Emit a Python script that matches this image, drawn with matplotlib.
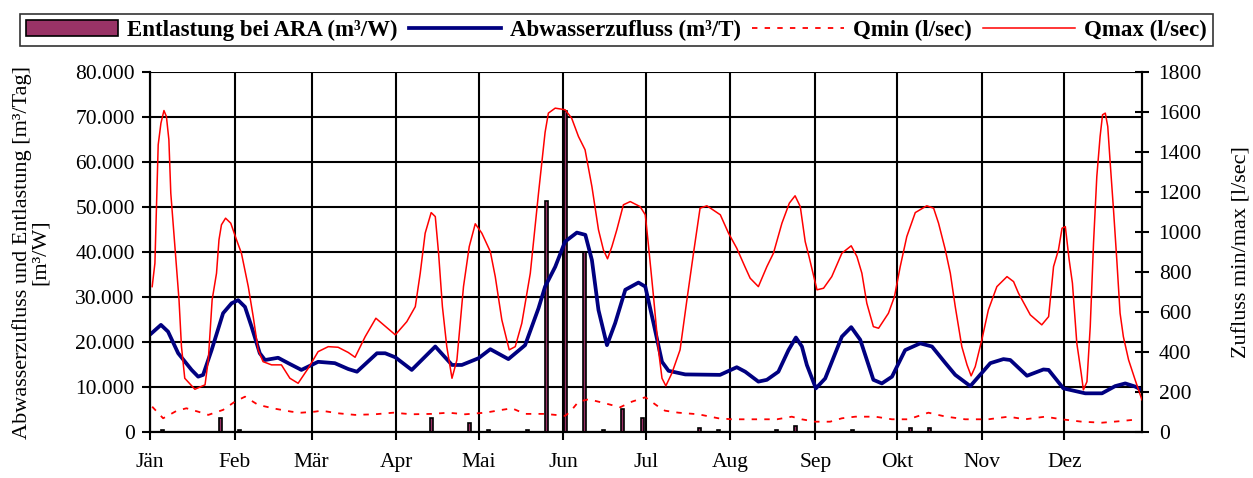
"""ARA Zufluss / Entlastung ueber das Jahr: Tageszufluss, Qmin/Qmax und woechentliche Entlastung."""
import numpy as np
import matplotlib
matplotlib.use("Agg")
import matplotlib.pyplot as plt
from matplotlib.ticker import FuncFormatter, MultipleLocator

plt.rcParams["font.family"] = ["Liberation Serif", "DejaVu Serif"]

MONATE = ["Jän", "Feb", "Mär", "Apr", "Mai", "Jun", "Jul", "Aug", "Sep", "Okt", "Nov", "Dez"]
MONATS_START = [0, 31, 59, 90, 120, 151, 181, 212, 243, 273, 304, 334]

# Entlastung bei ARA, je Woche (m³/W), 52 Wochen
entlastung_woche = [
    500, 0, 0, 3300, 500, 0, 0, 0, 0, 0,
    0, 0, 0, 0, 3300, 0, 2000, 500, 0, 500,
    51500, 71500, 40000, 500, 5200, 3300, 0, 0, 900, 500,
    0, 0, 500, 1400, 0, 0, 500, 0, 0, 1000,
    900, 0, 0, 0, 0, 0, 0, 0, 0, 0,
    0, 0,
]

# Abwasserzufluss (m³/T)
zufluss_tag = [0.5, 4, 6.6, 10.3, 15.2, 17.6, 19.4, 22.5, 26.7, 29.8, 32.2, 34.7, 37.1, 40.1,
               42, 46.8, 50.5, 55.3, 61.4, 67.5, 72.4, 75.6, 82.9, 85.9, 89.6, 95.6, 104.2,
               110.3, 113.9, 120, 124.3, 130.9, 137, 141.9, 144.3, 148, 151.6, 155.9, 159,
               161.4, 163.8, 166.9, 169.9, 173.6, 178.4, 180.9, 183.9, 187, 189.4, 195.5,
               208.2, 214.3, 217.4, 222.2, 225.3, 229.5, 233.2, 235.9, 238.1, 239.9, 243.2,
               246.6, 252.7, 256.1, 259.4, 264.2, 267.3, 271, 275.8, 281.3, 285.6, 290.4,
               294.1, 299.6, 302.6, 306.9, 311.7, 314.2, 320.3, 326.3, 328.2, 333.6, 341.6,
               347.7, 352.5, 356.2, 359.8, 362.3]
zufluss_wert = [22000, 23900, 22400, 17600, 13900, 12400, 12800, 18300, 26500, 28700, 29400,
                27900, 23500, 17600, 16100, 16600, 15400, 13900, 15700, 15400, 14100, 13500,
                17600, 17600, 16700, 13900, 19100, 15000, 15000, 16500, 18500, 16300, 19400,
                27600, 32400, 36800, 42400, 44400, 43900, 38300, 27200, 19400, 24300, 31700,
                33300, 32400, 24300, 15700, 13700, 12900, 12800, 14500, 13500, 11300, 11700,
                13500, 18300, 21100, 19100, 15000, 9800, 12000, 21300, 23400, 20600, 11700,
                10900, 12400, 18300, 19800, 19100, 15500, 12800, 10300, 12400, 15400, 16300,
                16100, 12600, 14000, 13900, 9800, 8700, 8700, 10300, 10900, 10200, 9400]

# Qmax (l/sec)
qmax_tag = [0.8, 1.8, 3, 4, 5.1, 6, 6.9, 7.6, 9.1, 10.6, 11.5, 12.7, 16.4, 20.1, 21.3, 22.7,
            24.3, 25.2, 26.1, 27.6, 29.5, 31.6, 33.4, 35.9, 37.7, 39.5, 41.3, 44.4, 48, 51.1,
            54.1, 57.8, 61.4, 65.1, 68.7, 72.4, 74.9, 78.6, 82.5, 89.6, 93.8, 96.9, 98.7,
            100.5, 102.7, 104.2, 105.4, 106.8, 108.4, 110.3, 112.1, 114.5, 116.6, 118.8,
            121.2, 124.3, 126.1, 128.5, 131.2, 133.4, 135.8, 138.9, 141.9, 144.3, 145.5, 148,
            151.6, 154, 156.5, 158.9, 161.4, 163.8, 165.6, 167.1, 168.7, 170.5, 172.9, 175.4,
            179, 180.9, 182.1, 183.9, 185.7, 187, 188.4, 190.6, 193.6, 196.1, 198.5, 200.9,
            203.4, 208.3, 211.3, 214.3, 217.4, 219.2, 222.2, 225.3, 227.7, 230.8, 233.5,
            235.6, 237.5, 239.3, 240.7, 243.6, 246, 249, 252.7, 256.1, 258.2, 260, 261.8,
            264.2, 266.1, 269.7, 271.9, 274, 276.4, 279.5, 283.7, 286.2, 288, 290.4, 292.3,
            294.1, 296.5, 298.4, 299.9, 301.4, 303.8, 306.2, 309.3, 313, 315.4, 317.2, 321.5,
            325.7, 328.2, 330, 331.8, 333.1, 334.3, 335.7, 336.9, 338.5, 340.1, 340.9, 342.2,
            343.4, 344.6, 345.8, 347, 347.9, 348.9, 349.8, 350.7, 351.9, 353.1, 354.3, 355.5,
            357.4, 359.8, 362.3]
qmax_wert = [729, 846, 1438, 1546, 1609, 1579, 1463, 1196, 929, 663, 429, 271, 216, 238, 363,
             663, 796, 963, 1038, 1071, 1046, 963, 896, 729, 579, 413, 354, 338, 338, 271, 246,
             321, 404, 429, 426, 400, 376, 479, 571, 488, 554, 629, 796, 996, 1099, 1079, 896,
             629, 429, 271, 363, 729, 929, 1043, 996, 904, 779, 563, 413, 429, 546, 796, 1196,
             1500, 1596, 1621, 1613, 1571, 1479, 1413, 1229, 1013, 913, 868, 929, 1013, 1138,
             1154, 1129, 1088, 929, 679, 413, 271, 233, 296, 413, 663, 896, 1121, 1133, 1088,
             996, 921, 825, 771, 729, 829, 896, 1046, 1146, 1183, 1129, 954, 879, 713, 721,
             779, 896, 933, 879, 796, 646, 529, 521, 596, 679, 829, 979, 1099, 1133, 1121,
             1046, 917, 796, 629, 429, 338, 283, 329, 463, 613, 729, 779, 754, 696, 588, 538,
             579, 829, 913, 1021, 1029, 863, 746, 446, 296, 213, 254, 529, 946, 1279, 1479,
             1588, 1596, 1529, 1346, 1113, 863, 596, 479, 363, 263, 163]

# Qmin (l/sec)
qmin_tag = [0.8, 4.8, 9.7, 13.3, 17.6, 21.3, 26.7, 31, 34.7, 39.5, 45.6, 51.7, 55.3, 60.2,
            62.6, 68.7, 74.9, 82.1, 88.9, 95.6, 102.9, 109, 115.1, 122.4, 128.5, 132.2, 137,
            144.3, 148, 151.6, 153.5, 156.5, 160.2, 166.2, 171.7, 176, 180.9, 185.7, 188.1,
            193, 200.3, 207.6, 212.5, 217.4, 229, 234.4, 238, 243, 248.4, 252.7, 257.6, 264.9,
            271, 277, 284.3, 290.4, 297.7, 306.2, 313.5, 319.6, 326.9, 333, 340.3, 347.7,
            353.8, 361.1]
qmin_wert = [129, 71, 108, 121, 104, 88, 113, 154, 179, 138, 119, 104, 99, 104, 109, 96, 88,
             91, 99, 91, 93, 99, 91, 99, 113, 121, 93, 93, 88, 83, 104, 154, 166, 146, 126,
             154, 176, 129, 109, 99, 91, 71, 66, 66, 66, 79, 66, 54, 54, 71, 79, 79, 66, 66,
             99, 80, 66, 66, 79, 66, 79, 66, 54, 49, 56, 66]

LEGEND = ["Entlastung bei ARA (m³/W)", "Abwasserzufluss (m³/T)", "Qmin (l/sec)", "Qmax (l/sec)"]


def tausender(v, _pos):
    return f"{v:,.0f}".replace(",", ".")


fig = plt.figure(figsize=(12.53, 4.78), dpi=100)
ax = fig.add_axes([0.1197, 0.0952, 0.9114 - 0.1197, 0.8487 - 0.0952])
ax2 = ax.twinx()

wochen = 4.7 + 7 * np.arange(len(entlastung_woche))
b = ax.bar(wochen, entlastung_woche, width=1.1, color="#993366", edgecolor="black",
           linewidth=1.2, zorder=3)
l1, = ax.plot(zufluss_tag, zufluss_wert, color="#000080", lw=2.7, zorder=4,
              solid_joinstyle="round")
l2, = ax2.plot(qmin_tag, qmin_wert, color="#ff0000", lw=1.3, dashes=(3, 4), zorder=4)
l3, = ax2.plot(qmax_tag, qmax_wert, color="#ff0000", lw=1.1, zorder=4)

ax.set_xlim(0, 362.3)
ax.set_ylim(0, 80000)
ax2.set_ylim(0, 1800)
ax.yaxis.set_major_locator(MultipleLocator(10000))
ax.yaxis.set_major_formatter(FuncFormatter(tausender))
ax2.yaxis.set_major_locator(MultipleLocator(200))
ax.set_xticks(MONATS_START)
ax.set_xticklabels(MONATE)

ax.grid(True, color="black", lw=1.5)
ax.set_axisbelow(True)
ax.spines["top"].set_visible(False)
ax2.spines["top"].set_visible(False)
for sp in list(ax.spines.values()) + list(ax2.spines.values()):
    sp.set_linewidth(1.5)

ax.tick_params(axis="both", labelsize=15.5, length=6, width=1.5, direction="out")
ax.tick_params(axis="x", pad=9)
ax.tick_params(axis="y", pad=5)
ax2.tick_params(axis="y", labelsize=15.5, length=10, width=1.5, direction="inout", pad=7)

ax.set_ylabel("Abwasserzufluss und Entlastung [m³/Tag]\n[m³/W]", fontsize=16,
              linespacing=0.95, labelpad=18)
ax2.set_ylabel("Zufluss min/max [l/sec]", fontsize=16, labelpad=22)

leg = fig.legend([b, l1, l2, l3], LEGEND, loc="upper center", ncol=4,
                 bbox_to_anchor=(0.492, 0.995), frameon=True, fancybox=False,
                 edgecolor="black", handlelength=4.0, columnspacing=0.5, handletextpad=0.4,
                 borderpad=0.25, prop={"weight": "bold", "size": 16.5})
leg.get_frame().set_linewidth(1.2)

fig.savefig("out.png", dpi=100)
